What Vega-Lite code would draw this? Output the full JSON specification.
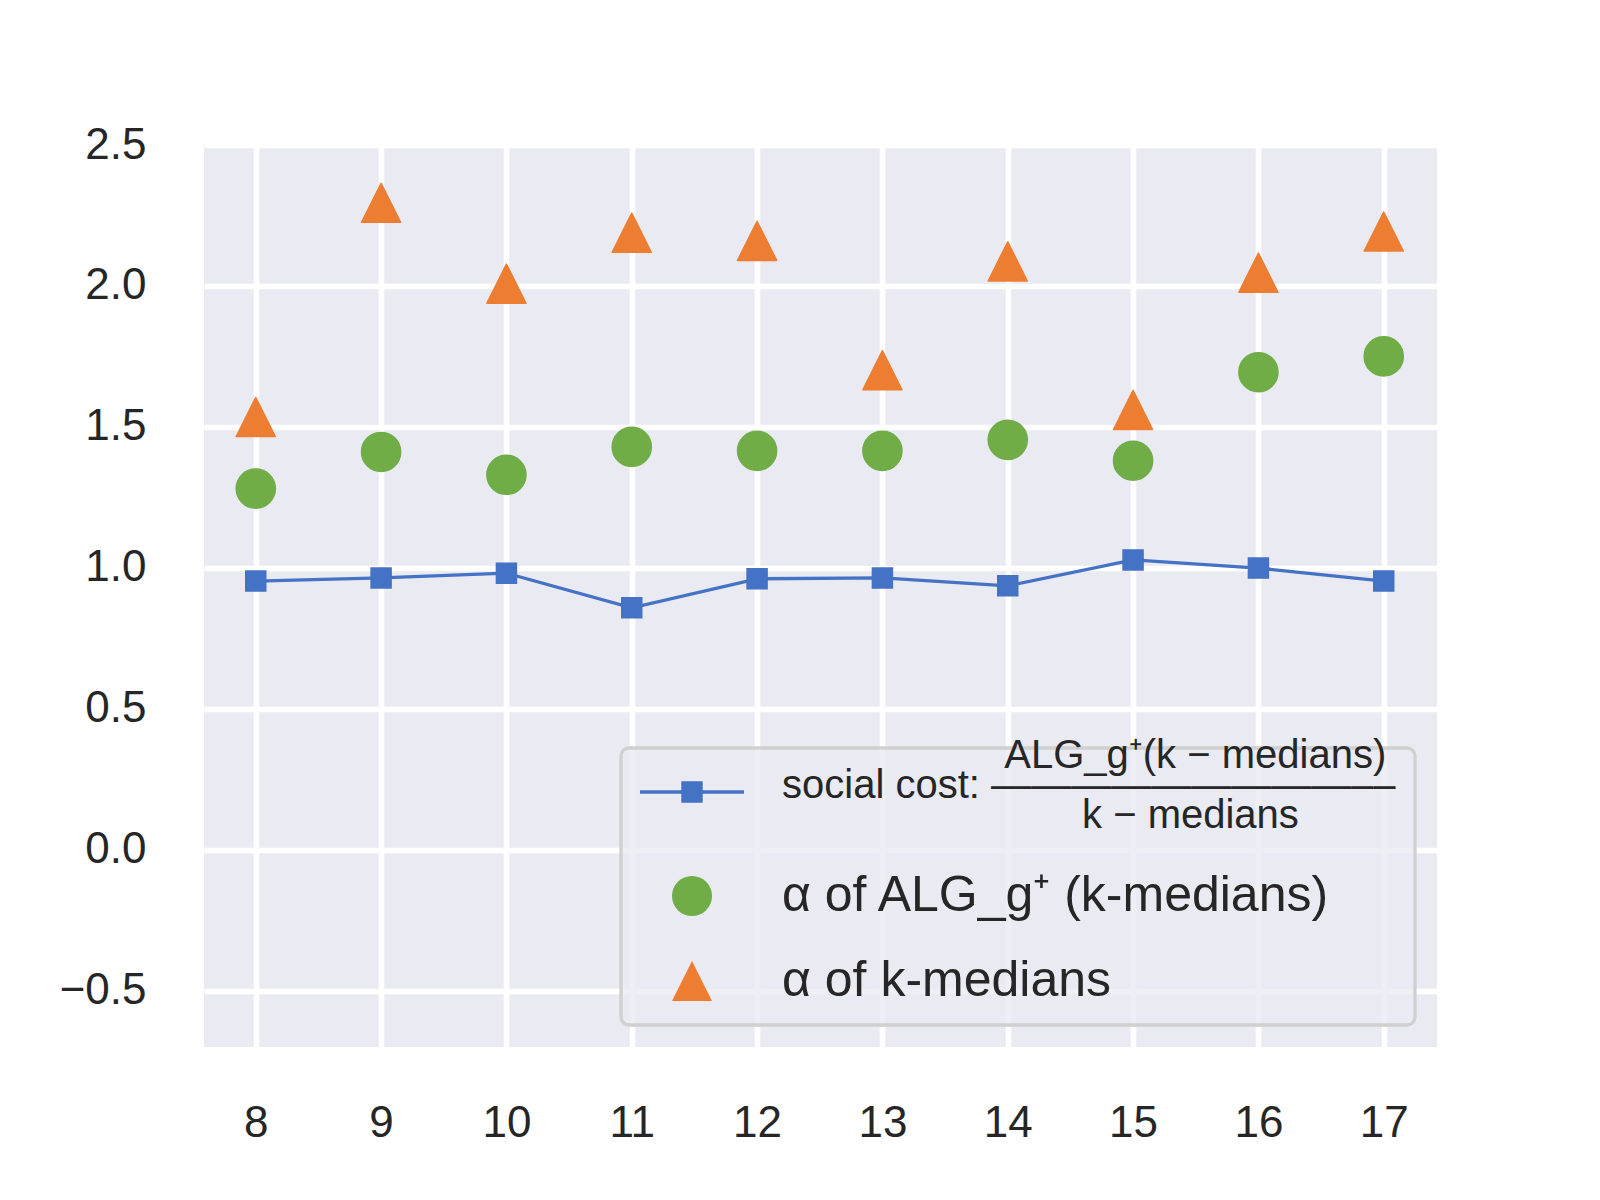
{
  "$schema": "https://vega.github.io/schema/vega-lite/v6.json",
  "width": 1233,
  "height": 902,
  "autosize": {"type": "none"},
  "padding": {"left": 204, "top": 145, "right": 163, "bottom": 153},
  "background": "white",
  "config": {
    "view": {"fill": "#EAEAF2", "stroke": null},
    "axis": {
      "domain": false,
      "ticks": false,
      "tickSize": 0,
      "grid": true,
      "gridColor": "#FFFFFF",
      "gridWidth": 5.5,
      "labelFont": "Liberation Sans",
      "labelFontSize": 44,
      "labelColor": "#262626",
      "title": null
    },
    "legend": {
      "orient": "bottom-right",
      "offset": 22,
      "padding": 19,
      "fillColor": "rgba(234,234,242,0.8)",
      "strokeColor": "#d0d0d0",
      "strokeWidth": 3.3,
      "cornerRadius": 8,
      "symbolSize": 1600,
      "symbolStrokeWidth": 0,
      "symbolOffset": 27,
      "labelFont": "Liberation Sans",
      "labelFontSize": 50,
      "labelColor": "#262626",
      "labelOffset": 65,
      "labelLimit": 0,
      "rowPadding": 35
    }
  },
  "data": {
    "values": [
      {"k": 8, "series": "social", "value": 0.953},
      {"k": 9, "series": "social", "value": 0.964},
      {"k": 10, "series": "social", "value": 0.981},
      {"k": 11, "series": "social", "value": 0.858},
      {"k": 12, "series": "social", "value": 0.961},
      {"k": 13, "series": "social", "value": 0.964},
      {"k": 14, "series": "social", "value": 0.936},
      {"k": 15, "series": "social", "value": 1.028},
      {"k": 16, "series": "social", "value": 0.999},
      {"k": 17, "series": "social", "value": 0.953},
      {"k": 8, "series": "alg", "value": 1.281},
      {"k": 9, "series": "alg", "value": 1.411},
      {"k": 10, "series": "alg", "value": 1.330},
      {"k": 11, "series": "alg", "value": 1.429},
      {"k": 12, "series": "alg", "value": 1.415},
      {"k": 13, "series": "alg", "value": 1.415},
      {"k": 14, "series": "alg", "value": 1.454},
      {"k": 15, "series": "alg", "value": 1.380},
      {"k": 16, "series": "alg", "value": 1.694},
      {"k": 17, "series": "alg", "value": 1.750},
      {"k": 8, "series": "kmed", "value": 1.535},
      {"k": 9, "series": "kmed", "value": 2.295},
      {"k": 10, "series": "kmed", "value": 2.008},
      {"k": 11, "series": "kmed", "value": 2.189},
      {"k": 12, "series": "kmed", "value": 2.160},
      {"k": 13, "series": "kmed", "value": 1.701},
      {"k": 14, "series": "kmed", "value": 2.087},
      {"k": 15, "series": "kmed", "value": 1.560},
      {"k": 16, "series": "kmed", "value": 2.047},
      {"k": 17, "series": "kmed", "value": 2.193}
    ]
  },
  "encoding": {
    "x": {
      "field": "k",
      "type": "quantitative",
      "scale": {"domain": [7.587, 17.425], "nice": false, "zero": false},
      "axis": {"values": [8, 9, 10, 11, 12, 13, 14, 15, 16, 17], "format": "d", "labelPadding": 54, "title": null}
    },
    "y": {
      "field": "value",
      "type": "quantitative",
      "scale": {"domain": [-0.7, 2.5], "nice": false, "zero": false},
      "axis": {"values": [-0.5, 0, 0.5, 1, 1.5, 2, 2.5], "format": ".1f", "labelPadding": 58, "title": null}
    }
  },
  "layer": [
    {
      "transform": [{"filter": "datum.series === 'social'"}],
      "mark": {"type": "line", "color": "#4472C4", "strokeWidth": 3.3}
    },
    {
      "transform": [{"filter": "datum.series === 'social'"}],
      "mark": {"type": "point", "shape": "square", "filled": true, "opacity": 1, "size": 400, "color": "#4472C4", "stroke": "#4472C4", "strokeWidth": 1.5}
    },
    {
      "transform": [{"filter": "datum.series !== 'social'"}],
      "mark": {"type": "point", "filled": true, "opacity": 1, "size": 1530, "strokeWidth": 1.5, "strokeJoin": "round"},
      "encoding": {
        "color": {
          "field": "series",
          "type": "nominal",
          "scale": {"domain": ["social", "alg", "kmed"], "range": ["#4472C4", "#70AD47", "#ED7D31"]},
          "legend": {
            "title": null,
            "labelExpr": "datum.value === 'social' ? ['\u200b\u00a0\u00a0\u00a0\u00a0\u00a0\u00a0\u00a0\u00a0\u00a0\u00a0\u00a0\u00a0\u00a0\u00a0\u00a0\u00a0\u00a0\u00a0\u00a0\u00a0ALG_g\u207a(k \u2212 medians)', 'social cost: \u2014\u2014\u2014\u2014\u2014\u2014\u2014\u2014\u2014\u2013\u2013', '\u200b\u00a0\u00a0\u00a0\u00a0\u00a0\u00a0\u00a0\u00a0\u00a0\u00a0\u00a0\u00a0\u00a0\u00a0\u00a0\u00a0\u00a0\u00a0\u00a0\u00a0\u00a0\u00a0\u00a0\u00a0\u00a0\u00a0\u00a0k \u2212 medians'] : datum.value === 'alg' ? '\u03b1 of ALG_g\u207a (k-medians)' : '\u03b1 of k-medians'",
            "encoding": {
              "labels": {
                "fontSize": {"value": {"expr": "datum.value === 'social' ? 40 : 50"}},
                "lineHeight": {"value": 30},
                "dy": {"value": {"expr": "datum.value === 'social' ? -36 : 0"}}
              }
            }
          }
        },
        "shape": {
          "field": "series",
          "type": "nominal",
          "scale": {"domain": ["social", "alg", "kmed"], "range": ["M-2.6,-0.09H2.6V0.09H-2.6Z M-0.535,-0.535H0.535V0.535H-0.535Z", "circle", "M0,-1L-1,1L1,1Z"]}
        },
        "stroke": {
          "field": "series",
          "type": "nominal",
          "scale": {"domain": ["social", "alg", "kmed"], "range": ["#4472C4", "#70AD47", "#ED7D31"]},
          "legend": null
        }
      }
    }
  ]
}
